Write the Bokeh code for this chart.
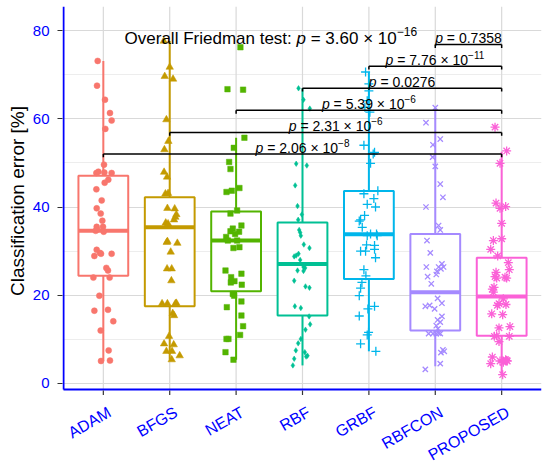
import math
from bokeh.plotting import figure
from bokeh.layouts import column
from bokeh.models import Range1d, FixedTicker
from bokeh.core.properties import value
from bokeh.embed import file_html
from bokeh.resources import INLINE

# ---------------- data ----------------
categories = ["ADAM", "BFGS", "NEAT", "RBF", "GRBF", "RBFCON", "PROPOSED"]
colors = ["#F8766D", "#C49A00", "#53B400", "#00C094", "#00B6EB", "#A58AFF", "#FB61D7"]
markers = ["circle", "triangle", "square", "diamond", "cross", "x", "asterisk"]

adam_values = [73.1, 67.5, 64.3, 61.3, 59.6, 57.7, 49.6, 47.7, 48.0, 47.8, 47.7, 46.2, 45.5, 44.0,
               41.5, 39.7, 38.5, 36.9, 35.5, 35.5, 34.6, 34.4, 34.9, 30.3, 29.6, 28.9, 29.4, 29.4,
               26.2, 25.6, 24.0, 24.0, 19.9, 16.5, 16.7, 14.1, 12.0, 7.5, 5.1, 5.2]
adam_jitter = [-0.085, -0.095, 0.025, 0.10, 0.125, 0.03, 0.01, -0.105, -0.075, 0.015, 0.125, 0.075,
               0.02, -0.105, -0.025, -0.1, -0.04, -0.015, -0.1, -0.005, -0.115, 0.005, -0.095, -0.1,
               -0.05, -0.135, -0.035, 0.125, 0.045, 0.07, -0.15, 0.095, -0.06, -0.135, 0.07, 0.15,
               -0.04, 0.08, -0.035, 0.1]

bfgs_values = [77.6, 71.7, 69.6, 69.0, 59.8, 54.9, 53.0, 47.9, 46.8, 43.0, 43.1, 39.7, 39.6, 38.3,
               37.7, 37.1, 36.4, 36.2, 32.2, 32.0, 31.8, 29.8, 26.0, 26.0, 23.3, 18.1, 18.1, 18.1,
               18.2, 15.9, 15.4, 10.7, 9.0, 8.8, 7.3, 7.3, 6.3, 5.4]
bfgs_jitter = [-0.09, 0.0, -0.075, 0.05, -0.05, -0.02, -0.08, -0.085, -0.04, -0.065, -0.025, -0.035,
               0.075, 0.1, 0.085, 0.065, -0.06, -0.025, -0.035, -0.045, 0.115, 0.015, -0.04, 0.03,
               0.025, -0.115, -0.035, 0.085, 0.1, 0.045, 0.065, -0.01, -0.085, 0.06, -0.05, 0.035,
               0.15, 0.03]

neat_values = [76.2, 66.7, 66.6, 55.7, 53.4, 50.2, 48.6, 43.4, 43.7, 44.3, 38.5, 39.2, 35.8, 35.1,
               34.5, 34.4, 33.9, 33.2, 32.4, 32.4, 30.7, 30.9, 25.6, 24.1, 24.9, 23.2, 22.9, 22.4,
               20.3, 19.9, 18.6, 17.3, 15.4, 13.0, 11.0, 10.1, 10.1, 7.1, 5.4]
neat_jitter = [0.065, -0.13, 0.105, 0.125, -0.035, -0.105, -0.085, -0.145, -0.065, 0.05, -0.085,
               0.015, 0.08, -0.05, -0.085, 0.045, -0.015, -0.15, -0.125, 0.015, -0.04, 0.05, -0.16,
               -0.075, 0.08, -0.025, -0.08, 0.085, -0.05, -0.03, 0.08, -0.14, 0.08, 0.105, 0.06,
               -0.115, -0.145, -0.16, -0.04]

rbf_values = [66.9, 64.3, 62.3, 49.8, 49.4, 44.9, 40.2, 38.3, 37.1, 34.8, 34.2, 33.5, 30.7, 31.5,
              29.4, 29.0, 28.8, 28.0, 26.4, 26.2, 25.6, 25.5, 23.3, 22.0, 21.7, 17.5, 17.1, 15.2,
              13.4, 12.2, 10.1, 9.1, 7.5, 7.1, 6.3, 6.1, 5.6, 4.1]
rbf_jitter = [-0.06, 0.015, 0.11, -0.095, 0.065, -0.11, -0.075, -0.01, -0.065, -0.05, -0.035, -0.025,
              0.105, 0.02, -0.06, -0.095, -0.125, -0.035, 0.015, 0.04, -0.075, 0.015, -0.125, 0.045,
              0.105, -0.115, -0.025, 0.1, 0.115, 0.045, -0.025, -0.065, -0.1, 0.035, 0.075, 0.055,
              -0.125, -0.145]

grbf_values = [70.6, 67.9, 66.3, 64.1, 62.6, 61.5, 54.0, 52.4, 52.0, 49.9, 43.0, 43.7, 41.9, 40.6,
               40.0, 38.1, 37.1, 36.8, 35.4, 33.9, 33.9, 33.5, 33.5, 31.3, 30.4, 31.4, 30.0, 30.0,
               28.5, 25.8, 24.4, 22.9, 21.6, 19.9, 16.9, 17.5, 15.3, 11.6, 11.0, 9.0, 7.3]
grbf_jitter = [-0.05, 0.0, 0.0, -0.025, -0.06, 0.015, -0.075, 0.085, 0.065, 0.025, -0.075, 0.135,
               0.075, -0.025, 0.1, -0.065, -0.125, -0.145, -0.1, 0.025, 0.115, -0.025, 0.125, 0.085,
               0.085, -0.035, -0.125, -0.05, 0.1, -0.075, -0.045, -0.105, -0.125, -0.145, -0.015,
               0.085, -0.145, -0.005, -0.025, -0.125, 0.105]

rbfcon_values = [62.5, 59.1, 55.4, 54.1, 51.3, 49.2, 45.2, 42.2, 40.0, 35.8, 34.8, 32.4, 29.6, 26.4,
                 26.4, 25.4, 27.1, 26.4, 26.0, 24.2, 24.7, 22.6, 19.3, 17.5, 17.7, 18.2, 16.9, 15.2,
                 14.4, 13.9, 13.1, 12.4, 11.3, 11.3, 11.3, 11.3, 11.4, 7.6, 7.0, 7.3, 4.5, 3.2]
rbfcon_jitter = [0.0, -0.14, 0.075, -0.035, -0.04, 0.0, 0.075, 0.115, -0.14, 0.05, 0.075, -0.125,
                 -0.075, -0.135, 0.05, 0.025, 0.1, 0.125, 0.085, -0.115, 0.015, -0.06, 0.035, -0.15,
                 -0.085, 0.1, -0.01, 0.1, 0.035, 0.075, 0.015, 0.04, -0.1, -0.035, 0.015, 0.075,
                 0.05, 0.115, 0.085, 0.135, 0.075, -0.15]

proposed_values = [58.1, 52.7, 49.9, 40.9, 39.7, 40.1, 36.3, 32.4, 32.8, 30.4, 28.9, 27.4, 25.2, 24.2,
                   25.8, 24.1, 23.9, 23.9, 21.8, 21.4, 20.7, 19.2, 17.7, 18.1, 17.9, 15.8, 15.6, 12.6,
                   12.9, 10.8, 10.7, 10.7, 9.5, 6.0, 4.5, 5.1, 4.8, 5.2, 5.4, 5.1, 2.0]
proposed_jitter = [-0.1, 0.075, -0.025, -0.085, -0.025, 0.06, 0.0, -0.125, 0.0, -0.165, -0.06, 0.1,
                   -0.085, -0.1, 0.115, 0.05, 0.075, -0.075, -0.115, -0.14, -0.125, 0.025, -0.065,
                   -0.04, 0.065, -0.15, 0.015, -0.04, 0.125, -0.075, -0.11, 0.115, -0.04, -0.14,
                   -0.165, -0.025, 0.025, 0.075, 0.06, 0.085, 0.015]

group_values = [adam_values, bfgs_values, neat_values, rbf_values, grbf_values, rbfcon_values, proposed_values]
group_jitter = [adam_jitter, bfgs_jitter, neat_jitter, rbf_jitter, grbf_jitter, rbfcon_jitter, proposed_jitter]

# box-plot statistics
box_lower = [5.1, 5.4, 5.4, 4.1, 7.3, 3.9, 2.0]
box_q1 = [24.4, 17.5, 20.9, 15.4, 23.7, 12.0, 10.8]
box_median = [34.6, 35.4, 32.4, 27.1, 33.8, 20.7, 19.7]
box_q3 = [47.1, 42.2, 39.0, 36.5, 43.6, 33.9, 28.5]
box_upper = [73.1, 77.6, 55.7, 66.9, 70.6, 62.5, 52.5]

# pairwise comparisons against PROPOSED
cmp_from = ["ADAM", "BFGS", "NEAT", "RBF", "GRBF", "RBFCON"]
cmp_to = "PROPOSED"
cmp_y = [52.0, 56.9, 61.9, 66.9, 71.9, 76.8]
cmp_mantissa = ["2.06", "2.31", "5.39", "0.0276", "7.76", "0.7358"]
cmp_exponent = ["−8", "−6", "−6", "", "−11", ""]

overall_prefix = "Overall Friedman test:"
overall_mantissa = "3.60"
overall_exponent = "−16"
overall_x = 1.32
overall_y = 78.2

y_ticks = [0, 20, 40, 60, 80]
y_minor = [10, 30, 50, 70]

FONT = "Liberation Sans"

# Arial / Liberation Sans advance widths (per 1000 em)
ADV = {' ': 278, '.': 278, '=': 584, '×': 584, '−': 584, ':': 278, 'p': 556,
       'O': 778, 'v': 500, 'e': 556, 'r': 333, 'a': 556, 'l': 222, 'F': 611, 'i': 222,
       'd': 556, 'm': 833, 'n': 556, 't': 278, 's': 500}


def tw(s, size):
    return sum(ADV.get(ch, 556) for ch in s) * size / 1000.0


# ---------------- geometry ----------------
X_MIN, X_MAX = 0.4, 7.6
AX_Y, Y_MAX = -1.36, 85.44
PX_X = 478 / (X_MAX - X_MIN)          # pixels per x unit
PX_Y = 383 / (Y_MAX - AX_Y)           # pixels per y unit
TICK = 5                              # tick length, px
FRAME_L = X_MIN - 1 / PX_X
Y_BOTTOM = AX_Y - (TICK + 1) / PX_Y
MAIN_H = 6 + 383 + TICK + 1
LAB_H = 463 - MAIN_H

x_range = Range1d(FRAME_L, X_MAX)

p = figure(width=550, height=MAIN_H, x_range=x_range, y_range=Range1d(Y_BOTTOM, Y_MAX),
           output_backend="svg", toolbar_location=None,
           min_border_left=62, min_border_right=9, min_border_top=6, min_border_bottom=0)
p.outline_line_color = None
p.background_fill_color = "white"
p.border_fill_color = "white"

xs = list(range(1, len(categories) + 1))
pos = {c: i + 1 for i, c in enumerate(categories)}

p.xaxis.visible = False
p.xgrid.visible = False
yaxis = p.yaxis[0]
yaxis.ticker = FixedTicker(ticks=y_ticks, minor_ticks=y_minor)
yaxis.axis_label = "Classification error [%]"
yaxis.axis_line_color = None
yaxis.major_tick_line_color = "#333333"
yaxis.major_tick_line_width = 1.2
yaxis.major_tick_out = TICK
yaxis.major_tick_in = 0
yaxis.minor_tick_line_color = None
yaxis.major_label_text_color = "blue"
yaxis.major_label_text_font = FONT
yaxis.major_label_text_font_size = "15px"
yaxis.major_label_standoff = 8
yaxis.axis_label_text_font = FONT
yaxis.axis_label_text_font_size = "19px"
yaxis.axis_label_text_font_style = "normal"
yaxis.axis_label_text_color = "black"
yaxis.axis_label_standoff = 2

p.ygrid.grid_line_color = "#d9d9d9"
p.ygrid.grid_line_width = 1.2
p.ygrid.minor_grid_line_color = "#ededed"
p.ygrid.minor_grid_line_width = 1

# vertical grid lines (only inside the panel)
p.segment(x0=xs, y0=[AX_Y] * len(xs), x1=xs, y1=[Y_MAX] * len(xs), line_color="#d9d9d9", line_width=1.2)

# ---------------- boxes ----------------
half = 0.375
p.segment(x0=xs, y0=box_q3, x1=xs, y1=box_upper, line_color=colors, line_width=2)
p.segment(x0=xs, y0=box_q1, x1=xs, y1=box_lower, line_color=colors, line_width=2)
p.vbar(x=xs, width=2 * half, bottom=box_q1, top=box_q3, fill_color="white",
       line_color=colors, line_width=2)
p.segment(x0=[x - half for x in xs], y0=box_median, x1=[x + half for x in xs], y1=box_median,
          line_color=colors, line_width=4)

# ---------------- jittered points ----------------
sizes = {"circle": 6, "triangle": 7.5, "square": 5.5, "diamond": 5.5, "cross": 9, "x": 7.5, "asterisk": 9}
for i, (vals, jit) in enumerate(zip(group_values, group_jitter)):
    px = [xs[i] + j for j in jit]
    m = markers[i]
    if m in ("cross", "x", "asterisk"):
        p.scatter(x=px, y=vals, marker=m, size=sizes[m], line_color=colors[i], line_width=1.3)
    else:
        p.scatter(x=px, y=vals, marker=m, size=sizes[m], fill_color=colors[i],
                  line_color=colors[i], line_width=0.5)

# ---------------- axis lines and x ticks ----------------
p.segment(x0=[X_MIN], y0=[AX_Y], x1=[X_MIN], y1=[Y_MAX], line_color="blue", line_width=2)
p.segment(x0=[X_MIN], y0=[AX_Y], x1=[X_MAX], y1=[AX_Y], line_color="blue", line_width=2)
p.segment(x0=xs, y0=[AX_Y - 1 / PX_Y] * len(xs), x1=xs, y1=[AX_Y - (TICK + 1) / PX_Y] * len(xs),
          line_color="#333333", line_width=1.2)

# ---------------- comparison brackets ----------------
tip = 0.75
x_left = [pos[c] for c in cmp_from]
x_right = [pos[cmp_to]] * len(cmp_from)
p.segment(x0=x_left, y0=cmp_y, x1=x_right, y1=cmp_y, line_color="black", line_width=1.5)
p.segment(x0=x_left, y0=cmp_y, x1=x_left, y1=[y - tip for y in cmp_y], line_color="black", line_width=1.5)
p.segment(x0=x_right, y0=cmp_y, x1=x_right, y1=[y - tip for y in cmp_y], line_color="black", line_width=1.5)

LBL, SUP, RAISE = 14, 10, 5
cx, ly, rest_txt, sup_txt = [], [], [], []
off_p, off_rest, off_sup = [], [], []
for xl, xr, y, man, ex in zip(x_left, x_right, cmp_y, cmp_mantissa, cmp_exponent):
    rest = "= " + man + (" × 10" if ex else "")
    lead = tw("p ", LBL)
    W = lead + tw(rest, LBL) + tw(ex, SUP)
    cx.append((xl + xr) / 2)
    ly.append(y + 1.4)
    rest_txt.append(rest)
    sup_txt.append(ex)
    off_p.append(-W / 2)
    off_rest.append(-W / 2 + lead)
    off_sup.append(-W / 2 + lead + tw(rest, LBL))

p.text(x=cx, y=ly, text=["p"] * len(cx), x_offset=off_p, text_font=value(FONT),
       text_font_size="14px", text_font_style="italic", text_align="left",
       text_baseline="alphabetic", text_color="black")
p.text(x=cx, y=ly, text=rest_txt, x_offset=off_rest, text_font=value(FONT),
       text_font_size="14px", text_align="left", text_baseline="alphabetic", text_color="black")
p.text(x=cx, y=ly, text=sup_txt, x_offset=off_sup, y_offset=-RAISE, text_font=value(FONT),
       text_font_size="10px", text_align="left", text_baseline="alphabetic", text_color="black")

# ---------------- overall test label ----------------
TS, TSUP, TRAISE = 17, 12, 7
o_rest = "= " + overall_mantissa + " × 10"
o1 = tw(overall_prefix + " ", TS)
o2 = o1 + tw("p ", TS)
o3 = o2 + tw(o_rest, TS)
p.text(x=[overall_x], y=[overall_y], text=[overall_prefix], x_offset=0, text_font=value(FONT),
       text_font_size="17px", text_align="left", text_baseline="alphabetic", text_color="black")
p.text(x=[overall_x], y=[overall_y], text=["p"], x_offset=o1, text_font=value(FONT),
       text_font_size="17px", text_font_style="italic", text_align="left",
       text_baseline="alphabetic", text_color="black")
p.text(x=[overall_x], y=[overall_y], text=[o_rest], x_offset=o2, text_font=value(FONT),
       text_font_size="17px", text_align="left", text_baseline="alphabetic", text_color="black")
p.text(x=[overall_x], y=[overall_y], text=[overall_exponent], x_offset=o3, y_offset=-TRAISE,
       text_font=value(FONT), text_font_size="12px", text_align="left",
       text_baseline="alphabetic", text_color="black")

# ---------------- category labels strip (shares the x scale) ----------------
q = figure(width=550, height=LAB_H, x_range=x_range, y_range=Range1d(-LAB_H, 0),
           output_backend="svg", toolbar_location=None,
           min_border_left=62, min_border_right=9, min_border_top=0, min_border_bottom=0)
q.outline_line_color = None
q.background_fill_color = "white"
q.border_fill_color = "white"
q.xaxis.visible = False
q.yaxis.visible = False
q.grid.visible = False
q.text(x=xs, y=[-(14 - TICK - 1)] * len(xs), text=categories, x_offset=2, angle=math.pi / 6,
       text_align="right", text_baseline="top", text_color="blue",
       text_font=value(FONT), text_font_size="16px")

layout = column(p, q, spacing=0)
open("out.html", "w").write(file_html(layout, INLINE))
